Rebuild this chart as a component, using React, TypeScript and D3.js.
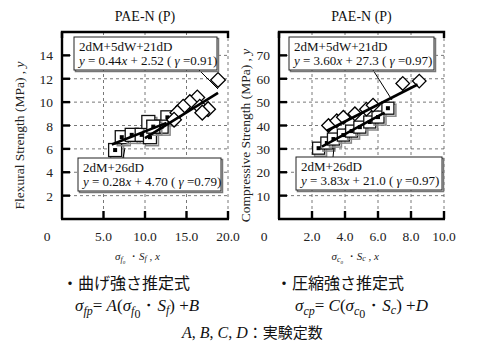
import React from "react";
import * as d3 from "d3";

// ---------- data ----------
const panelTitles = ["PAE-N (P)", "PAE-N (P)"];
const flexYTicks = [2, 4, 6, 8, 10, 12, 14];
const flexXTicks = [5, 10, 15, 20];
const compYTicks = [10, 20, 30, 40, 50, 60, 70];
const compXTicks = [2, 4, 6, 8, 10];

// Flexural: series A = 2dM+5dW+21dD (diamonds), series B = 2dM+26dD (squares)
const flexAx = [18.8, 16.3, 15.4, 14.6, 13.9, 13.5, 16.6, 17.6, 16.9];
const flexAy = [11.9, 10.4, 10.0, 9.6, 9.1, 8.5, 9.6, 9.4, 9.1];
const flexBx = [6.4, 7.2, 8.4, 9.6, 10.6, 10.4, 12.7, 12.0, 11.0];
const flexBy = [5.9, 7.0, 7.2, 7.2, 7.0, 8.3, 8.7, 7.9, 7.9];

// Compressive
const compAx = [7.5, 8.5, 3.0, 3.5, 3.9, 4.6, 5.3, 5.7];
const compAy = [58, 59, 40, 42, 43.5, 45, 47, 48.7];
const compBx = [2.4, 2.9, 3.3, 3.9, 4.4, 4.9, 5.5, 6.0, 6.6];
const compBy = [30.3, 32.5, 34.2, 35.9, 37.6, 39.3, 41.5, 43.6, 47.4];

// regression coefficients [slope, intercept, xStart, xEnd]
const flexFitA = [0.44, 2.52, 10.0, 18.8];
const flexFitB = [0.28, 4.7, 6.0, 12.6];
const compFitA = [3.6, 27.3, 2.9, 8.4];
const compFitB = [3.83, 21.0, 2.6, 6.4];

const flexLegend = [
  ["2dM+5dW+21dD", "0.44", "2.52", "0.91"],
  ["2dM+26dD", "0.28", "4.70", "0.79"],
];
const compLegend = [
  ["2dM+5dW+21dD", "3.60", "27.3", "0.97"],
  ["2dM+26dD", "3.83", "21.0", "0.97"],
];

const SERIF = "Liberation Serif, Times New Roman, DejaVu Serif, serif";
const JP = "Noto Sans CJK JP, sans-serif";
const serif = (size: number, extra: React.CSSProperties = {}): React.CSSProperties => ({
  fontFamily: SERIF,
  fontSize: size,
  ...extra,
});

type Leg = { x: number; y: number; w: number; lx1: number; lx2: number; ly2: number };
type PanelProps = {
  x0: number;
  x1: number;
  xDomain: [number, number];
  yDomain: [number, number];
  xTicks: number[];
  yTicks: number[];
  title: string;
  yLabel: string;
  sub: string;
  ax: number[];
  ay: number[];
  bx: number[];
  by: number[];
  fitA: number[];
  fitB: number[];
  legend: string[][];
  leg1: Leg;
  leg2: Leg;
  sq: number;
  yLabX: number;
};

const TOP = 32;
const BOT = 219;

function Panel(p: PanelProps) {
  const x = d3.scaleLinear().domain(p.xDomain).range([p.x0, p.x1]);
  const y = d3.scaleLinear().domain(p.yDomain).range([BOT, TOP]);
  const fitPath = (f: number[]) =>
    d3
      .line<[number, number]>()
      .x((d) => x(d[0]))
      .y((d) => y(d[1]))([
      [f[2], f[0] * f[2] + f[1]],
      [f[3], f[0] * f[3] + f[1]],
    ]) as string;
  const cx = (p.x0 + p.x1) / 2;
  const s = p.sq;
  const dSize = s * 0.8;
  return (
    <g>
      <text x={cx} y={21} textAnchor="middle" style={serif(14)} fill="#111">
        {p.title}
      </text>
      {/* grid */}
      {p.yTicks.map((t) => (
        <line key={"gy" + t} x1={p.x0} x2={p.x1} y1={y(t)} y2={y(t)} stroke="#555" strokeWidth={0.8} strokeDasharray="3,3" />
      ))}
      {p.xTicks.map((t) => (
        <line key={"gx" + t} x1={x(t)} x2={x(t)} y1={TOP} y2={BOT} stroke="#555" strokeWidth={0.8} strokeDasharray="3,3" />
      ))}
      {/* frame */}
      <path d={`M${p.x0},${TOP + 6}V${TOP}H${p.x1}V${TOP + 6}`} fill="none" stroke="#000" strokeWidth={2.4} />
      <line x1={p.x0} x2={p.x0} y1={TOP} y2={BOT} stroke="#000" strokeWidth={2.4} />
      <line x1={p.x0 - 1} x2={p.x1 + 1} y1={BOT} y2={BOT} stroke="#000" strokeWidth={2.4} />
      {p.yTicks.map((t) => (
        <line key={"ty" + t} x1={p.x0} x2={p.x0 + 8} y1={y(t)} y2={y(t)} stroke="#000" strokeWidth={2.4} />
      ))}
      {p.xTicks.map((t) => (
        <line key={"tx" + t} x1={x(t)} x2={x(t)} y1={BOT} y2={BOT - 8} stroke="#000" strokeWidth={2.4} />
      ))}
      {/* tick labels */}
      {p.yTicks.map((t) => (
        <text key={"ly" + t} x={p.x0 - 9} y={y(t) + 5} textAnchor="end" style={serif(13.5)} fill="#222">
          {t}
        </text>
      ))}
      {p.xTicks.map((t) => (
        <text key={"lx" + t} x={x(t)} y={241} textAnchor="middle" style={serif(13.5)} fill="#222">
          {t.toFixed(1)}
        </text>
      ))}
      <text x={p.x0 - 15} y={241} textAnchor="middle" style={serif(13.5)} fill="#222">
        0
      </text>
      {/* axis titles */}
      <text x={cx - 30} y={260} style={serif(11, { fontStyle: "italic" })} fill="#222">
        σ
        <tspan style={{ fontSize: 8 }} dy={2}>{p.sub}</tspan>
        <tspan style={{ fontSize: 5 }} dy={2}>0</tspan>
        <tspan style={{ fontSize: 11, fontStyle: "normal" }} dy={-4}> ・</tspan>
        <tspan>S</tspan>
        <tspan style={{ fontSize: 8 }} dy={1}>{p.sub}</tspan>
        <tspan style={{ fontSize: 11, fontStyle: "normal" }} dy={-1}>{"   ,  "}</tspan>
        <tspan>x</tspan>
      </text>
      <text
        transform={`translate(${p.yLabX},${(TOP + BOT) / 2 + 10}) rotate(-90)`}
        textAnchor="middle"
        style={serif(13.5)}
        fill="#222"
      >
        {p.yLabel}
        <tspan>{" , "}</tspan>
        <tspan style={{ fontStyle: "italic" }}>y</tspan>
      </text>
      {/* series B squares */}
      {p.bx.map((v, i) => (
        <g key={"b" + i} transform={`translate(${x(v)},${y(p.by[i])})`}>
          <rect x={-s / 2 + 2} y={-s / 2 + 2} width={s} height={s} fill="none" stroke="#888" strokeWidth={1.5} />
          <rect x={-s / 2} y={-s / 2} width={s} height={s} fill="#fff" stroke="#111" strokeWidth={1.3} />
          <rect x={-2} y={-2} width={4} height={4} fill="#000" />
        </g>
      ))}
      {/* series A diamonds */}
      {p.ax.map((v, i) => (
        <rect
          key={"a" + i}
          x={-dSize / 2}
          y={-dSize / 2}
          width={dSize}
          height={dSize}
          transform={`translate(${x(v)},${y(p.ay[i])}) rotate(45)`}
          fill="#fff"
          stroke="#000"
          strokeWidth={1.3}
        />
      ))}
      {/* fits */}
      <path d={fitPath(p.fitA)} stroke="#000" strokeWidth={2.6} fill="none" />
      <path d={fitPath(p.fitB)} stroke="#000" strokeWidth={2.6} fill="none" />
      {/* legends */}
      {[p.leg1, p.leg2].map((L, i) => {
        const row = p.legend[i];
        return (
          <g key={"leg" + i}>
            <line x1={L.lx1} y1={i === 0 ? L.y + 33 : L.y} x2={L.lx2} y2={L.ly2} stroke="#000" strokeWidth={1} />
            <rect x={L.x + 1.5} y={L.y + 1.5} width={L.w} height={33} fill="none" stroke="#777" strokeWidth={1.5} />
            <rect x={L.x} y={L.y} width={L.w} height={33} fill="#fff" stroke="#222" strokeWidth={1} />
            <text x={L.x + 5} y={L.y + 14} style={serif(13)} fill="#111">
              {row[0]}
            </text>
            <text x={L.x + 5} y={L.y + 28} style={serif(13)} fill="#111">
              <tspan style={{ fontStyle: "italic" }}>y</tspan>
              <tspan>{` = ${row[1]}`}</tspan>
              <tspan style={{ fontStyle: "italic" }}>x</tspan>
              <tspan>{` + ${row[2]} ( `}</tspan>
              <tspan style={{ fontStyle: "italic" }}>γ</tspan>
              <tspan>{` =${row[3]})`}</tspan>
            </text>
          </g>
        );
      })}
    </g>
  );
}

export default function App() {
  return (
    <svg width={480} height={360} style={{ position: "absolute", left: 0, top: 0, background: "#fff" }}>
      <rect width={480} height={360} fill="#fff" />
      <Panel
        x0={62}
        x1={228}
        xDomain={[0, 20]}
        yDomain={[0, 16]}
        xTicks={flexXTicks}
        yTicks={flexYTicks}
        title={panelTitles[0]}
        yLabel="Flexural Strength (MPa)"
        sub="f"
        ax={flexAx}
        ay={flexAy}
        bx={flexBx}
        by={flexBy}
        fitA={flexFitA}
        fitB={flexFitB}
        legend={flexLegend}
        leg1={{ x: 74, y: 37, w: 143, lx1: 199, lx2: 218, ly2: 89 }}
        leg2={{ x: 78, y: 158, w: 143, lx1: 123, lx2: 125, ly2: 148 }}
        sq={13}
        yLabX={24}
      />
      <Panel
        x0={279}
        x1={444}
        xDomain={[0, 10]}
        yDomain={[0, 80]}
        xTicks={compXTicks}
        yTicks={compYTicks}
        title={panelTitles[1]}
        yLabel="Compressive Strength (MPa)"
        sub="c"
        ax={compAx}
        ay={compAy}
        bx={compBx}
        by={compBy}
        fitA={compFitA}
        fitB={compFitB}
        legend={compLegend}
        leg1={{ x: 289, y: 37, w: 145, lx1: 373, lx2: 392, ly2: 100 }}
        leg2={{ x: 296, y: 157, w: 146, lx1: 333, lx2: 334, ly2: 148 }}
        sq={12}
        yLabX={250}
      />
      {/* formulas */}
      <text x={62} y={289} style={{ fontFamily: JP, fontSize: 16 }} fill="#111">・曲げ強さ推定式</text>
      <text x={276} y={289} style={{ fontFamily: JP, fontSize: 16 }} fill="#111">・圧縮強さ推定式</text>
      <text x={75} y={311} style={serif(17, { fontStyle: "italic" })} fill="#111">
        σ<tspan style={{ fontSize: 12 }} dy={4}>fp</tspan>
        <tspan dy={-4} style={{ fontStyle: "normal" }}>= </tspan>A
        <tspan style={{ fontStyle: "normal" }}>(</tspan>σ
        <tspan style={{ fontSize: 12 }} dy={4}>f</tspan>
        <tspan style={{ fontSize: 12, fontStyle: "normal" }} dy={3}>0</tspan>
        <tspan dy={-7} style={{ fontStyle: "normal" }}>・</tspan>S
        <tspan style={{ fontSize: 12 }} dy={3}>f</tspan>
        <tspan dy={-3} style={{ fontStyle: "normal" }}>) +</tspan>B
      </text>
      <text x={295} y={311} style={serif(17, { fontStyle: "italic" })} fill="#111">
        σ<tspan style={{ fontSize: 12 }} dy={4}>cp</tspan>
        <tspan dy={-4} style={{ fontStyle: "normal" }}>= </tspan>C
        <tspan style={{ fontStyle: "normal" }}>(</tspan>σ
        <tspan style={{ fontSize: 12 }} dy={4}>c</tspan>
        <tspan style={{ fontSize: 12, fontStyle: "normal" }} dy={3}>0</tspan>
        <tspan dy={-7} style={{ fontStyle: "normal" }}>・</tspan>S
        <tspan style={{ fontSize: 12 }} dy={3}>c</tspan>
        <tspan dy={-3} style={{ fontStyle: "normal" }}>) +</tspan>D
      </text>
      <text x={182} y={338} style={serif(16)} fill="#111">
        <tspan style={{ fontStyle: "italic" }}>A</tspan>,  <tspan style={{ fontStyle: "italic" }}>B</tspan>,{"  "}
        <tspan style={{ fontStyle: "italic" }}>C</tspan>,  <tspan style={{ fontStyle: "italic" }}>D</tspan>
        <tspan style={{ fontFamily: JP, fontSize: 15 }}>：実験定数</tspan>
      </text>
    </svg>
  );
}
